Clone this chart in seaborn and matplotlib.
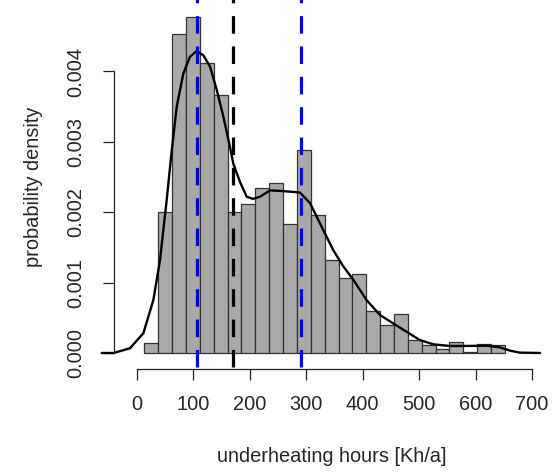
import numpy as np
import pandas as pd
import seaborn as sns
import matplotlib.pyplot as plt

# ==========================================
# Data
# ==========================================
bin_start = 13.5
bin_width = 24.55
densities = [0.00014, 0.00201, 0.00453, 0.00478, 0.00412, 0.00367, 0.00200,
             0.00211, 0.00234, 0.00242, 0.00183, 0.00288, 0.00196, 0.00132,
             0.00107, 0.00112, 0.00060, 0.00040, 0.00056, 0.000185, 0.000115,
             0.00005, 0.00016, 0.00001, 0.00013, 0.00011]

# kernel density curve (read point by point)
curve_x = [-62, -41, -12, 11.7, 29.4, 41.2, 53, 62, 70.8, 82.5, 94.3, 106,
           118, 129.7, 141.6, 153.3, 165, 171, 182.8, 194.7, 206, 218, 236,
           259.5, 289, 306.7, 330, 348, 365.7, 383.4, 407, 430.6, 454, 477.9,
           501, 525, 554.5, 584, 619.5, 643, 661, 678, 714]
curve_y = [0.0, 0.0, 0.000067, 0.00028, 0.00075, 0.00132, 0.00217, 0.00288,
           0.0035, 0.00397, 0.00421, 0.00429, 0.00423, 0.00407, 0.00374,
           0.00336, 0.00293, 0.00269, 0.00243, 0.00222, 0.00219, 0.00222,
           0.00231, 0.0023, 0.00228, 0.00213, 0.00175, 0.00146, 0.00123,
           0.00104, 0.00075, 0.00054, 0.00042, 0.0003, 0.000185, 0.000123,
           0.0001, 0.0001, 0.000104, 0.00008, 0.000033, 0.000005, 0.0]

# vertical reference lines
blue_lines = [106, 290]
black_line = 170

x_ticks = [0, 100, 200, 300, 400, 500, 600, 700]
y_ticks = [0.000, 0.001, 0.002, 0.003, 0.004]

# ==========================================
# Plot
# ==========================================
sns.set_style('ticks')
plt.rcParams['font.family'] = ['Liberation Sans', 'DejaVu Sans']

edges = [bin_start + bin_width * i for i in range(len(densities) + 1)]
df_hist = pd.DataFrame({'center': [(edges[i] + edges[i + 1]) / 2
                                   for i in range(len(densities))],
                        'density': densities})

fig = plt.figure(figsize=(5.59, 4.73), dpi=100)
ax = fig.add_axes([0.1789, 0.2165, 0.8186, 0.811])

sns.histplot(data=df_hist, x='center', weights='density', bins=edges,
             stat='count', color='#A9A9A9', edgecolor='#333333',
             linewidth=0.9, alpha=1, ax=ax)
sns.lineplot(x=curve_x, y=curve_y, color='black', linewidth=1.7,
             estimator=None, sort=False, ax=ax)

ymin_line, ymax_line = -0.0002, 0.0052
for xb in blue_lines:
    ax.vlines(xb, ymin_line, ymax_line, colors='#0000FF', linewidth=2.3,
              linestyles=(0, (5.5, 4)), zorder=5)
ax.vlines(black_line, ymin_line, ymax_line, colors='black', linewidth=2.3,
          linestyles=(0, (5.5, 4)), zorder=5)

ax.set_xlim(-65, 745)
ax.set_ylim(-0.00025, 0.0052)

ax.spines['top'].set_visible(False)
ax.spines['right'].set_visible(False)
ax.spines['left'].set_position(('data', -40))
ax.spines['bottom'].set_position(('data', -0.000227))
ax.spines['left'].set_bounds(0, 0.004)
ax.spines['bottom'].set_bounds(0, 700)
for s in ['left', 'bottom']:
    ax.spines[s].set_linewidth(0.9)
    ax.spines[s].set_color('#222222')

ax.set_xticks(x_ticks)
ax.set_xticklabels([str(v) for v in x_ticks], fontsize=14.4)
ax.set_yticks(y_ticks)
ax.set_yticklabels([f'{v:.3f}' for v in y_ticks], fontsize=14.4,
                   rotation=90, va='center')
ax.tick_params(axis='both', length=8, width=0.9, color='#222222')
ax.tick_params(axis='x', pad=11)
ax.tick_params(axis='y', pad=13)

ax.set_xlabel('underheating hours [Kh/a]', fontsize=14.4)
ax.set_ylabel('probability density', fontsize=14.4)
ax.xaxis.set_label_coords(0.506, -0.225)
ax.xaxis.label.set_va('center')
ax.yaxis.set_label_coords(-0.1464, 0.4786)
ax.yaxis.label.set_va('center')

fig.savefig('out.png', dpi=100)
plt.close()
